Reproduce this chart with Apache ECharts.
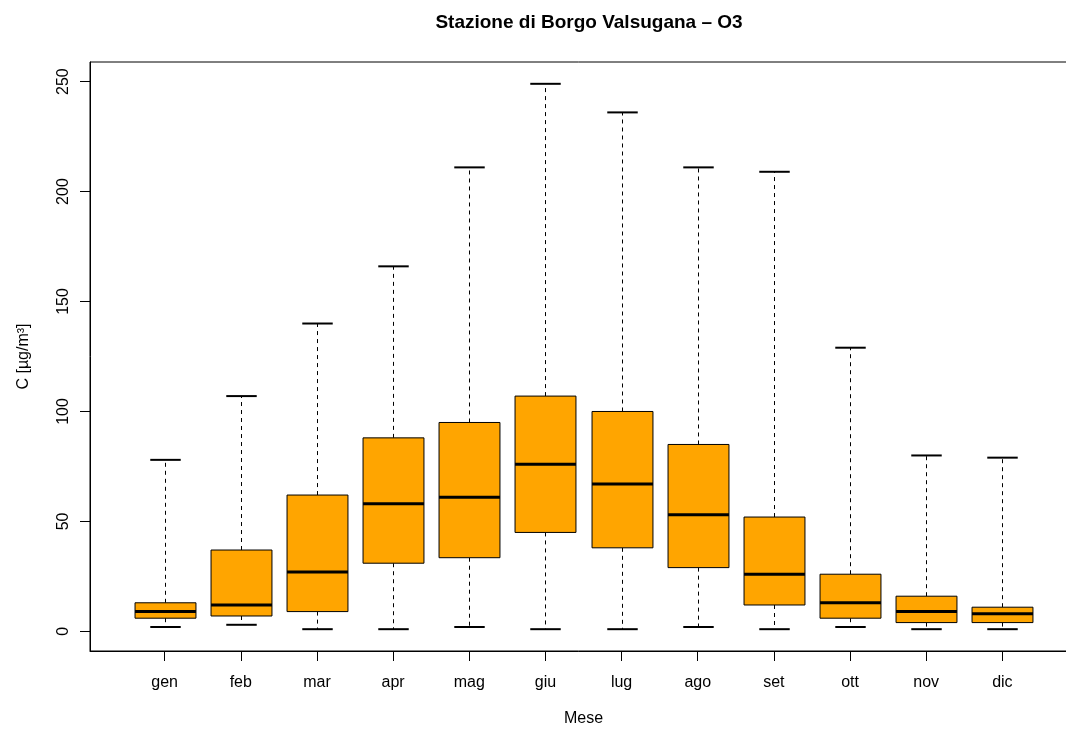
<!DOCTYPE html>
<html>
<head>
<meta charset="utf-8">
<script src="https://cdn.jsdelivr.net/npm/echarts@6/dist/echarts.min.js"></script>
<style>
  html, body { margin: 0; padding: 0; background: #fff; }
  #chart { width: 1066px; height: 729px; }
</style>
</head>
<body>
<div id="chart"></div>
<script>
// monthly O3 box statistics
const months = ['gen', 'feb', 'mar', 'apr', 'mag', 'giu', 'lug', 'ago', 'set', 'ott', 'nov', 'dic'];
const lowWhisker = [2, 3, 1, 1, 2, 1, 1, 2, 1, 2, 1, 1];
const lowerQuartile = [6, 7, 9, 31, 33.5, 45, 38, 29, 12, 6, 4, 4];
const median = [9, 12, 27, 58, 61, 76, 67, 53, 26, 13, 9, 8];
const upperQuartile = [13, 37, 62, 88, 95, 107, 100, 85, 52, 26, 16, 11];
const highWhisker = [78, 107, 140, 166, 211, 249, 236, 211, 209, 129, 80, 79];
const yTicks = [0, 50, 100, 150, 200, 250];
const xTicks = months.map((m, i) => i + 1);

const boxData = months.map((m, i) => [i + 1, lowWhisker[i], lowerQuartile[i], median[i], upperQuartile[i], highWhisker[i]]);

const font = 'Liberation Sans, Arial, Helvetica, sans-serif';

function renderBox(params, api) {
    const x = api.value(0);
    const lo = api.coord([x, api.value(1)]);
    const q1 = api.coord([x, api.value(2)]);
    const md = api.coord([x, api.value(3)]);
    const q3 = api.coord([x, api.value(4)]);
    const hi = api.coord([x, api.value(5)]);
    const boxW = api.size([0.8, 0])[0];
    const capW = api.size([0.4, 0])[0];
    const cx = Math.round(lo[0]) + 0.5;
    const dashed = { stroke: '#000', lineWidth: 1, lineDash: [4, 4] };
    return {
        type: 'group',
        children: [
            { type: 'line', shape: { x1: cx, y1: q3[1], x2: cx, y2: hi[1] }, style: dashed },
            { type: 'line', shape: { x1: cx, y1: q1[1], x2: cx, y2: lo[1] }, style: dashed },
            { type: 'line', shape: { x1: cx - capW / 2, y1: hi[1], x2: cx + capW / 2, y2: hi[1] }, style: { stroke: '#000', lineWidth: 2 } },
            { type: 'line', shape: { x1: cx - capW / 2, y1: lo[1], x2: cx + capW / 2, y2: lo[1] }, style: { stroke: '#000', lineWidth: 2 } },
            { type: 'rect', shape: { x: cx - boxW / 2, y: q3[1], width: boxW, height: q1[1] - q3[1] }, style: { fill: '#FFA500', stroke: '#000', lineWidth: 1 } },
            { type: 'line', shape: { x1: cx - boxW / 2, y1: md[1], x2: cx + boxW / 2, y2: md[1] }, style: { stroke: '#000', lineWidth: 3 } }
        ]
    };
}

const chart = echarts.init(document.getElementById('chart'));
chart.setOption({
    animation: false,
    backgroundColor: '#fff',
    title: {
        text: 'Stazione di Borgo Valsugana – O3',
        left: 584,
        textAlign: 'center',
        top: 8,
        textStyle: { fontFamily: font, fontSize: 19, fontWeight: 'bold', color: '#000' }
    },
    grid: {
        left: 90, top: 62, width: 987, height: 589,
        show: true, borderColor: '#000', borderWidth: 1,
        outerBoundsMode: 'none'
    },
    xAxis: {
        type: 'value',
        min: 0.02, max: 12.98,
        name: 'Mese',
        nameLocation: 'middle',
        nameGap: 60,
        nameTextStyle: { fontFamily: font, fontSize: 16, color: '#000' },
        axisLine: { show: true, onZero: false, lineStyle: { color: '#000' } },
        axisTick: { show: true, length: 10, customValues: xTicks, lineStyle: { color: '#000' } },
        axisLabel: {
            customValues: xTicks, margin: 24,
            fontFamily: font, fontSize: 16, color: '#000',
            formatter: v => months[Math.round(v) - 1]
        },
        splitLine: { show: false }
    },
    yAxis: {
        type: 'value',
        min: -8.92, max: 258.92,
        name: 'C [µg/m³]',
        nameLocation: 'middle',
        nameGap: 58,
        nameTextStyle: { fontFamily: font, fontSize: 16, color: '#000' },
        axisLine: { show: true, lineStyle: { color: '#000' } },
        axisTick: { show: true, length: 10, customValues: yTicks, lineStyle: { color: '#000' } },
        axisLabel: {
            customValues: yTicks, margin: 18, rotate: 90,
            fontFamily: font, fontSize: 16, color: '#000'
        },
        splitLine: { show: false }
    },
    series: [{
        type: 'custom',
        renderItem: renderBox,
        encode: { x: 0, y: [1, 2, 3, 4, 5] },
        data: boxData
    }]
});
</script>
</body>
</html>
